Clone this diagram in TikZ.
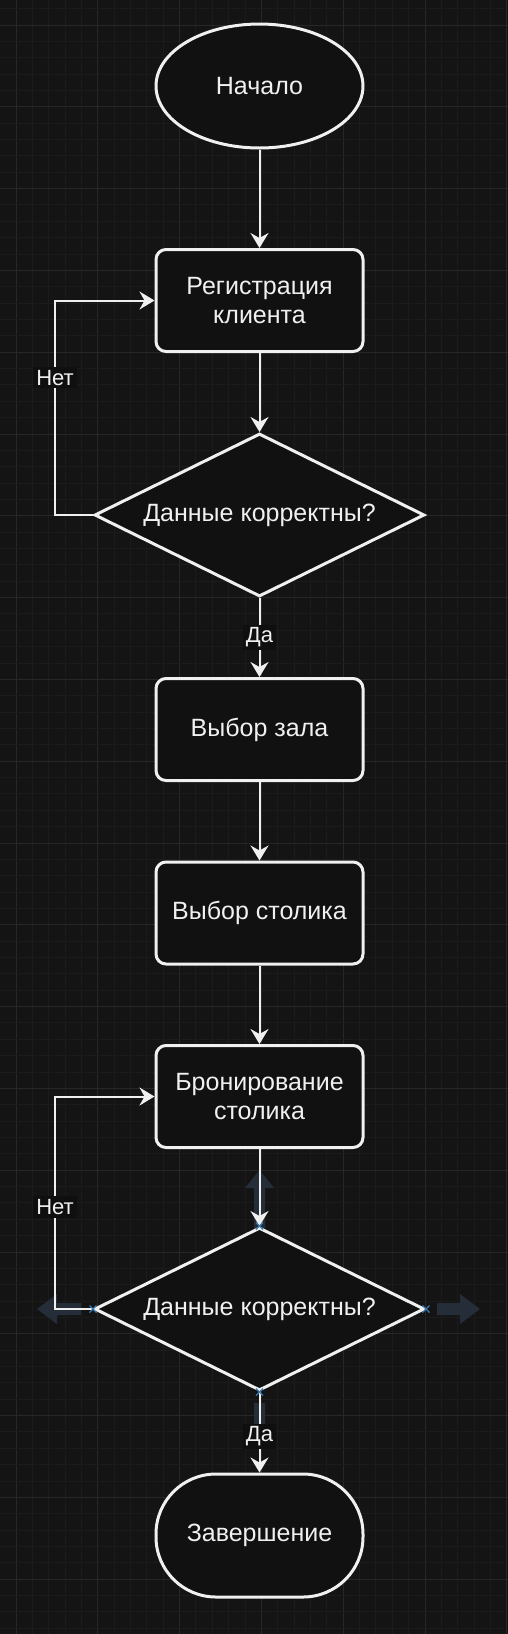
\documentclass[tikz,border=0pt]{standalone}
\usepackage{fontspec}
\setmainfont{Liberation Sans}
\usetikzlibrary{shapes.geometric,arrows.meta,calc}

\definecolor{bgcol}{HTML}{141414}
\definecolor{minorcol}{HTML}{1B1B1B}
\definecolor{majorcol}{HTML}{272727}
\definecolor{boxcol}{HTML}{111111}
\definecolor{fgcol}{HTML}{F0F0F0}
\definecolor{lblcol}{HTML}{0F0F0F}
\definecolor{hovercol}{HTML}{26303C}
\definecolor{markcol}{HTML}{3A7AB0}

\begin{document}
\begin{tikzpicture}[x=0.5pt,y=-0.5pt,
    every node/.style={text=fgcol, font=\fontsize{12.5}{14.5}\selectfont},
    startnode/.style={ellipse, draw=fgcol, line width=1.5pt, fill=boxcol,
      minimum width=103.5pt, minimum height=62pt, inner sep=0pt},
    procnode/.style={rectangle, rounded corners=5pt, draw=fgcol, line width=1.5pt,
      fill=boxcol, minimum width=103.5pt, minimum height=51pt, align=center},
    decnode/.style={diamond, aspect=2.02, draw=fgcol, line width=1.5pt, fill=boxcol,
      minimum width=165pt, minimum height=81.5pt, inner sep=0pt},
    endnode/.style={rectangle, rounded corners=30pt, draw=fgcol, line width=1.5pt,
      fill=boxcol, minimum width=103.5pt, minimum height=61.5pt},
    conn/.style={draw=fgcol, line width=1pt,
      -{Stealth[length=7.5pt,width=9pt,inset=2.5pt]}},
    lbl/.style={fill=lblcol, font=\fontsize{11}{13}\selectfont, inner sep=1.5pt},
    hover/.style={fill=hovercol, fill opacity=0.9},
    selmark/.style={draw=markcol, line width=0.6pt}
  ]
  % background and grid
  \fill[bgcol] (0,0) rectangle (508,1634);
  \useasboundingbox (0,0) rectangle (508,1634);
  \foreach \i in {0,...,30} {
    \pgfmathsetmacro{\gx}{16+\i*16.36}
    \pgfmathtruncatemacro{\gm}{mod(\i,5)}
    \ifnum\gm=0
      \draw[majorcol, line width=0.5pt] (\gx,0) -- (\gx,1634);
    \else
      \draw[minorcol, line width=0.5pt] (\gx,0) -- (\gx,1634);
    \fi
  }
  \foreach \j in {-1,...,98} {
    \pgfmathsetmacro{\gy}{25+\j*16.36}
    \pgfmathtruncatemacro{\gm}{mod(\j+5,5)}
    \ifnum\gm=0
      \draw[majorcol, line width=0.5pt] (0,\gy) -- (508,\gy);
    \else
      \draw[minorcol, line width=0.5pt] (0,\gy) -- (508,\gy);
    \fi
  }

  % hover arrows round the second check
  \fill[hover] (254,1228) -- (254,1188) -- (245,1188) -- (259.5,1170)
    -- (274,1188) -- (265,1188) -- (265,1228) -- cycle;
  \fill[hover] (81,1303) -- (57,1303) -- (57,1294) -- (37,1309)
    -- (57,1324) -- (57,1315) -- (81,1315) -- cycle;
  \fill[hover] (437,1303) -- (460,1303) -- (460,1294) -- (480,1309)
    -- (460,1324) -- (460,1315) -- (437,1315) -- cycle;
  \fill[hover] (254,1403) -- (265,1403) -- (265,1425) -- (274,1425)
    -- (259.5,1443) -- (245,1425) -- (254,1425) -- cycle;

  \node[startnode] (start) at (259.5,86) {Начало};
  \node[procnode] (reg) at (259.5,300.5) {Регистрация\\клиента};
  \node[decnode] (check1) at (259.5,515) {Данные корректны?};
  \node[procnode] (hall) at (259.5,729.5) {Выбор зала};
  \node[procnode] (table) at (259.5,913) {Выбор столика};
  \node[procnode] (book) at (259.5,1096.5) {Бронирование\\столика};
  \node[decnode] (check2) at (259.5,1309) {Данные корректны?};
  \node[endnode] (finish) at (259.5,1535.5) {Завершение};

  \draw[conn] (start) -- (reg);
  \draw[conn] (reg) -- (check1);
  \draw[conn] (check1) -- node[lbl]{Да} (hall);
  \draw[conn] (check1.west) -- ++(-38,0) |- node[lbl,pos=0.32]{Нет} (reg.west);
  \draw[conn] (hall) -- (table);
  \draw[conn] (table) -- (book);
  \draw[conn] (book) -- (check2);
  \draw[conn] (check2) -- node[lbl,pos=0.55]{Да} (finish);
  \draw[conn] (check2.west) -- ++(-38,0) |- node[lbl,pos=0.24]{Нет} (book.west);

  % selection marks
  \foreach \p in {north,south,west,east} {
    \draw[selmark] ($(check2.\p)+(-3.5,-3.5)$) -- ++(7,7);
    \draw[selmark] ($(check2.\p)+(-3.5,3.5)$) -- ++(7,-7);
  }
\end{tikzpicture}
\end{document}
